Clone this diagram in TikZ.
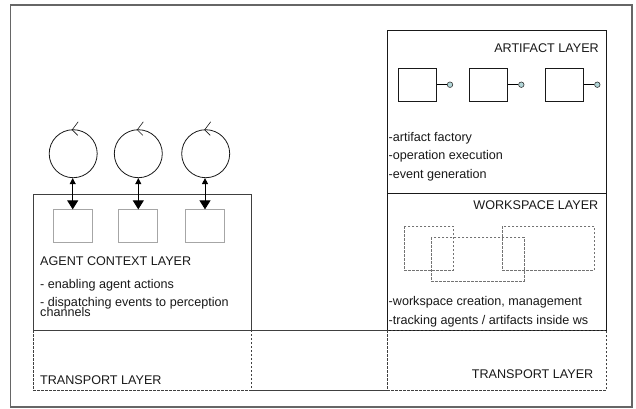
\documentclass[tikz,border=0pt]{standalone}
\usepackage{fontspec}
\setmainfont{Liberation Sans}
\usetikzlibrary{arrows.meta,calc}

\definecolor{portfill}{RGB}{178,214,216}

\tikzset{
  lbl/.style={font=\fontsize{12.6}{14}\selectfont, inner sep=0pt, text=black!90},
  frame/.style={draw=black!60, line width=1.6pt},
  layer/.style={draw=black!75, line width=0.9pt},
  artlayer/.style={draw=black!90, line width=0.9pt},
  ctxbox/.style={draw=black!35, line width=0.9pt, minimum width=39pt, minimum height=33pt, inner sep=0pt},
  agentc/.style={circle, draw=black!90, line width=0.8pt, minimum size=48pt, inner sep=0pt},
  artbox/.style={draw=black!90, line width=0.8pt, minimum width=38pt, minimum height=33pt, inner sep=0pt},
  port/.style={circle, draw=black!80, fill=portfill, line width=0.6pt, minimum size=5.5pt, inner sep=0pt},
  wsbox/.style={draw=black!55, line width=0.6pt, dash pattern=on 2.5pt off 1.5pt},
  trdash/.style={draw=black!75, line width=0.7pt, dash pattern=on 2.5pt off 1.5pt},
  link/.style={line width=0.9pt, {Triangle[width=6pt,length=6pt]}-{Triangle[width=11pt,length=9pt]}},
  tick/.style={line width=0.6pt, draw=black!90},
}

\begin{document}
\begin{tikzpicture}[x=1pt,y=-1pt]
\useasboundingbox (0,0) rectangle (636,408);
\fill[white] (0,0) rectangle (636,408);

% outer frame
\draw[frame] (10.5,5) rectangle (632,407);

% artifact layer and workspace layer
\draw[artlayer] (387,30.5) rectangle (606,193.5);
\draw[artlayer] (387,193.5) rectangle (606,330);

% agent context layer
\draw[layer] (33,194) rectangle (251,330);

% transport layer: solid middle part, dashed side parts
\draw[layer] (251,330) -- (387,330);
\draw[layer] (251,390) -- (387,390);
\draw[trdash] (33,330) rectangle (251,390);
\draw[trdash] (387,330) rectangle (606,390);

% agent context slots
\node[ctxbox] (s1) at (72.7,226.3) {};
\node[ctxbox] (s2) at (138.3,226.3) {};
\node[ctxbox] (s3) at (205,226.3) {};

% agents
\node[agentc] (c1) at (73.2,153.7) {};
\node[agentc] (c2) at (138.3,153.7) {};
\node[agentc] (c3) at (205.7,153.7) {};

% agent cycle marks
\foreach \c in {c1,c2,c3}{
  \draw[tick] ([shift={(5,-7.5)}]\c.north) -- ([shift={(-1,0.5)}]\c.north) -- ([shift={(4.5,6)}]\c.north);
}

% agent <-> context links
\draw[link] (s1.north |- c1.south) -- (s1.north);
\draw[link] (s2.north |- c2.south) -- (s2.north);
\draw[link] (s3.north |- c3.south) -- (s3.north);

% agent context texts
\node[lbl, anchor=base west] (actx) at (40,265.5) {AGENT CONTEXT LAYER};
\node[lbl, anchor=base west] (act1) at (40,288.5) {- enabling agent actions};
\node[lbl, anchor=base west] (act2) at (40,306.5) {- dispatching events to perception};
\node[lbl, anchor=base west] (act3) at (40,316.5) {channels};

% artifacts
\node[artbox] (a1) at (417.2,84.7) {};
\node[artbox] (a2) at (488.3,84.7) {};
\node[artbox] (a3) at (564.5,84.7) {};
\node[port] (p1) at (450,84.7) {};
\node[port] (p2) at (521.3,84.7) {};
\node[port] (p3) at (597.3,84.7) {};
\draw[line width=0.7pt] (a1.east) -- (p1.west);
\draw[line width=0.7pt] (a2.east) -- (p2.west);
\draw[line width=0.7pt] (a3.east) -- (p3.west);

\node[lbl, anchor=base east] (artl) at (599,52) {ARTIFACT LAYER};
\node[lbl, anchor=base west] (art1) at (388.5,141) {-artifact factory};
\node[lbl, anchor=base west] (art2) at (388.5,159.5) {-operation execution};
\node[lbl, anchor=base west] (art3) at (388.5,178) {-event generation};

% workspaces
\draw[wsbox] (404.3,226) rectangle (453.3,270);
\draw[wsbox] (431,237.3) rectangle (524,281);
\draw[wsbox] (502.3,226) rectangle (594.3,270);

\node[lbl, anchor=base east] (wsl) at (598.5,209.5) {WORKSPACE LAYER};
\node[lbl, anchor=base west] (ws1) at (388.5,305) {-workspace creation, management};
\node[lbl, anchor=base west] (ws2) at (388.5,324) {-tracking agents / artifacts inside ws};

% transport labels
\node[lbl, anchor=base west] (trl) at (40,384.5) {TRANSPORT LAYER};
\node[lbl, anchor=base east] (trr) at (593.5,378) {TRANSPORT LAYER};
\end{tikzpicture}
\end{document}
